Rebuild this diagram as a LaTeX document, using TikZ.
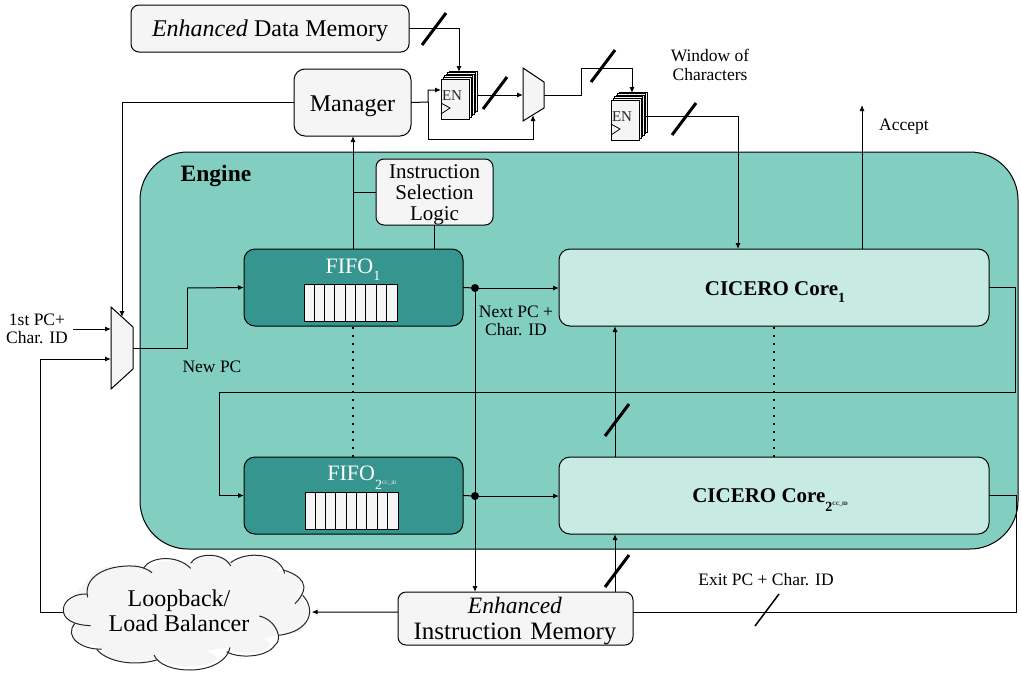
\documentclass[tikz,border=0pt]{standalone}
\usepackage{fontspec}
\setmainfont{Liberation Serif}
\usetikzlibrary{arrows.meta,calc}
\definecolor{engine}{HTML}{82CEC0}
\definecolor{fifoc}{HTML}{36958E}
\definecolor{corec}{HTML}{C7EAE3}
\definecolor{greyc}{HTML}{F5F5F5}
\newcommand{\fsz}[1]{\fontsize{#1}{#1}\selectfont}
\newcommand{\idx}[1]{\raisebox{-0.32em}{\fsz{14}#1}}
\newcommand{\idxcc}{\raisebox{-0.42em}{\fsz{14}2\raisebox{0.42em}{\fsz{5}CC\_ID}}}
\tikzset{
  x=1pt,y=-1pt,
  every node/.style={inner sep=0pt,outer sep=0pt,align=center},
  box/.style={draw=black,line width=1pt,fill=greyc,rounded corners=8pt,anchor=north west},
  fifobox/.style={box,fill=fifoc,rounded corners=11pt,minimum width=219pt,minimum height=77pt},
  corebox/.style={box,fill=corec,rounded corners=11pt,minimum width=430pt,minimum height=77pt},
  wire/.style={draw=black,line width=1pt},
  arr/.style={wire,-{Latex[length=6pt,width=5pt]}},
  slash/.style={draw=black,line width=3pt},
  thinslash/.style={draw=black,line width=1.5pt},
  dotline/.style={draw=black,line width=1.8pt,dash pattern=on 1.8pt off 6.2pt},
  junction/.style={circle,fill=black,minimum size=8pt},
  smalltext/.style={font=\fsz{17.5}},
  reg/.style={draw=black,line width=1pt,fill=greyc},
}
\newcommand{\regstack}[3]{% name, x, y of front box north west; w 28, h 40
  \foreach \o in {8,6.5,5,3.5,2}{\draw[reg] (#2+\o,#3-\o) rectangle (#2+28+\o,#3+40-\o);}
  \node[box,rounded corners=0pt,minimum width=28pt,minimum height=40pt] (#1) at (#2,#3) {};
  \draw[line width=0.8pt] (#2,#3+24) -- (#2+9,#3+29) -- (#2,#3+35);
  \node[font=\fsz{15},text=black!85] at (#2+11,#3+17) {EN};
}
\newcommand{\queue}[3]{% name,x,y
  \node[draw=black,line width=1pt,fill=greyc,anchor=north west,minimum width=93pt,minimum height=37pt] (#1) at (#2,#3) {};
  \foreach \i in {1,...,8}{\draw[line width=1pt] (#2+10.33*\i,#3) -- (#2+10.33*\i,#3+37);}
}
\begin{document}
\begin{tikzpicture}
\useasboundingbox (0,0) rectangle (1022,675);
% engine
\node[box,fill=engine,rounded corners=48pt,minimum width=878pt,minimum height=397pt] (engine) at (140,152) {};
\node[font=\fsz{23.5}\bfseries] (enginelab) at (216,176) {Engine};
% boxes
\node[box,minimum width=278pt,minimum height=47pt] (dmem) at (131,5) {};
\node[font=\fsz{24}] (dmemlab) at (270,30.5) {\textit{Enhanced} Data Memory};
\node[box,minimum width=117pt,minimum height=67pt,rounded corners=11pt] (manager) at (294,69) {};
\node[font=\fsz{24}] (managerlab) at (352.5,106.5) {Manager};
\node[box,minimum width=117pt,minimum height=66pt] (isl) at (376,159) {};
\node[font=\fsz{21}] (isllab) at (434.5,195) {Instruction\\[0pt]Selection\\[0pt]Logic};
\node[fifobox] (fifoA) at (244,249) {};
\node[fifobox] (fifoB) at (244,457) {};
\node[font=\fsz{22},text=white] (fifoAlab) at (353,270) {FIFO\idx{1}};
\node[font=\fsz{22},text=white] (fifoBlab) at (362,478) {FIFO\idxcc};
\queue{qA}{304}{284}
\queue{qB}{305}{492}
\node[corebox] (coreA) at (559,249) {};
\node[corebox] (coreB) at (559,457) {};
\node[font=\fsz{21}\bfseries] (coreAlab) at (775,292) {CICERO Core\idx{1}};
\node[font=\fsz{21}\bfseries] (coreBlab) at (770,500) {CICERO Core\idxcc};
\node[box,minimum width=235pt,minimum height=53pt] (imem) at (398,592) {};
\node[font=\fsz{25},text width=235pt] (imemlab) at (515,621.5) {{\fsz{23.5}\textit{Enhanced}}\\[1pt]Instruction Memory};
% registers and muxes
\regstack{regA}{441}{79}
\regstack{regB}{611}{100}
\draw[reg] (523,68) -- (544,82) -- (544,108) -- (523,121) -- cycle;
\coordinate (muxAin) at (523,95);
\coordinate (muxAout) at (544,95);
\coordinate (muxAsel) at (533,115);
\draw[reg] (111,307) -- (133,327) -- (133,369) -- (111,389) -- cycle;
\coordinate (muxBout) at (133,348);
\coordinate (muxBsel) at (122,317);
\coordinate (muxBa) at (111,329);
\coordinate (muxBb) at (111,359);
% cloud
\begin{scope}[shift={(0,530)},x=0.33333pt,y=-0.33333pt]
\fill[greyc] (262,150) -- (455,127) -- (570,110) -- (690,105) -- (850,125) -- (905,200) -- (935,250) -- (835,315) -- (690,352) -- (470,385) -- (300,357) -- (215,290) -- (190,240) -- cycle;
\fill[greyc] (390,130) ellipse (110 and 25);\fill[greyc] (640,100) ellipse (60 and 25);\fill[greyc] (770,105) ellipse (70 and 30);
\fill[greyc] (860,160) ellipse (45 and 30);\fill[greyc] (870,280) ellipse (50 and 30);\fill[greyc] (750,345) ellipse (60 and 25);
\fill[greyc] (570,385) ellipse (80 and 25);\fill[greyc] (400,370) ellipse (90 and 25);\fill[greyc] (260,320) ellipse (40 and 25);\fill[greyc] (310,160) ellipse (45 and 40);\fill[greyc] (520,110) ellipse (60 and 18);
\begin{scope}[draw=black!85,line width=1pt]
\draw (263,202) .. controls (250,145) and (310,105) .. (400,108) .. controls (425,110) and (445,118) .. (456,128);
\draw (430,115) .. controls (450,80) and (530,72) .. (572,115);
\draw (572,100) .. controls (590,68) and (670,65) .. (692,108);
\draw (692,98) .. controls (740,60) and (840,70) .. (854,130);
\draw (850,120) .. controls (900,135) and (940,165) .. (885,221);
\draw (908,196) .. controls (950,240) and (930,305) .. (835,316);
\draw (778,258) .. controls (830,270) and (850,330) .. (825,345) .. controls (800,385) and (710,385) .. (680,365);
\draw (690,352) .. controls (680,400) and (620,420) .. (570,420) .. controls (520,420) and (475,405) .. (462,375);
\draw (470,390) .. controls (400,410) and (320,395) .. (290,358);
\draw (305,357) .. controls (245,360) and (190,320) .. (225,280);
\draw (272,287) .. controls (215,285) and (190,265) .. (190,240) .. controls (190,210) and (225,190) .. (262,192);
\end{scope}
\coordinate (cloudE) at (935,246);
\coordinate (cloudW) at (190,246);
\end{scope}
\node[font=\fsz{24}] (cloudlab) at (179,610.5) {Loopback/\\[1pt]Load Balancer};
% helper coordinates
\coordinate (mgrTurn) at (428,102);
\coordinate (mgrRet) at (428,139);
\coordinate (dmemTurn) at (459,28);
\coordinate (regAtop) at (459,72);
\coordinate (regAin) at (441,90);
\coordinate (regAout) at (478,95);
\coordinate (regBtop) at (632,93);
\coordinate (regBout) at (646,116);
\coordinate (xA) at (581,68);
\coordinate (coreAin) at (738,249);
\coordinate (acceptEnd) at (862,105);
\coordinate (mgrBottom) at (353,136);
\coordinate (fifoTop) at (353,249);
\coordinate (islBase) at (434,249);
\coordinate (feedR) at (1015,392);
\coordinate (feedL) at (219,392);
\coordinate (exitR) at (1016,612);
\coordinate (upX) at (615,326);
\coordinate (loopL) at (40,359);
\coordinate (pcIn) at (73,329);
\coordinate (muxOutTurn) at (187,288);
\node[junction] (dotA) at (475,288) {};
\node[junction] (dotB) at (475,496) {};
% connectors
\draw[arr] (dmem.east|-dmemTurn) -- (dmemTurn) -- (regAtop);
\draw[arr] (manager.west) -| (muxBsel);
\draw[arr] (manager.east) -- (mgrTurn) |- (regAin);
\draw[arr] (mgrTurn) -- (mgrRet) -| (muxAsel);
\draw[arr] (regAout) -- (muxAin);
\draw[wire] (muxAout) -| (xA);
\draw[arr] (xA) -| (regBtop);
\draw[arr] (regBout) -| (coreAin);
\draw[arr] (acceptEnd|-coreA.north) -- (acceptEnd);
\draw[arr] (fifoTop) -- (mgrBottom);
\draw[wire] (mgrBottom|-isl.west) -- (isl.west);
\draw[wire] (isl.south-|islBase) -- (islBase);
\draw[wire] (fifoA.east) -- (dotA);
\draw[arr] (dotA) -- (dotA-|coreA.west);
\draw[wire] (fifoB.east) -- (dotB);
\draw[arr] (dotB) -- (dotB-|coreB.west);
\draw[arr] (dotA) -- (dotA|-imem.north);
\draw[wire] (coreA.east) -| (feedR) -- (feedL);
\draw[arr] (feedL) |- (fifoB.west);
\draw[wire] (coreB.east) -| (exitR) -- (imem.east|-exitR);
\draw[arr] (imem.west|-exitR) -- (cloudE);
\draw[wire] (cloudW) -| (loopL);
\draw[arr] (loopL) -- (muxBb);
\draw[arr] (pcIn) -- (muxBa);
\draw[wire] (muxBout) -| (muxOutTurn);
\draw[arr] (muxOutTurn) -- (fifoA.west);
\draw[arr] (upX|-imem.north) -- (upX|-coreB.south);
\draw[arr] (upX|-coreB.north) -- (upX);
\draw[dotline] (353,327) -- (353,457);
\draw[dotline] (774,327) -- (774,457);
% slashes
\draw[slash] (422,45) -- (446,13);
\draw[slash] (483,109) -- (507,77);
\draw[slash] (591,82) -- (615,50);
\draw[slash] (672,135) -- (696,103);
\draw[slash] (605,436) -- (629,404);
\draw[slash] (605,587) -- (629,555);
\draw[thinslash] (755,626) -- (779,594);
% labels
\node[smalltext] (l1) at (710,65) {Window of\\[1pt]Characters};
\node[smalltext] (l2) at (904,127) {Accept};
\node[smalltext] (l3) at (37,329) {1st PC+\\[1pt]Char. ID};
\node[smalltext] (l4) at (212,367) {New PC};
\node[smalltext] (l5) at (516,321) {Next PC +\\[1pt]Char. ID};
\node[smalltext] (l6) at (766,580) {Exit PC + Char. ID};
\end{tikzpicture}
\end{document}
